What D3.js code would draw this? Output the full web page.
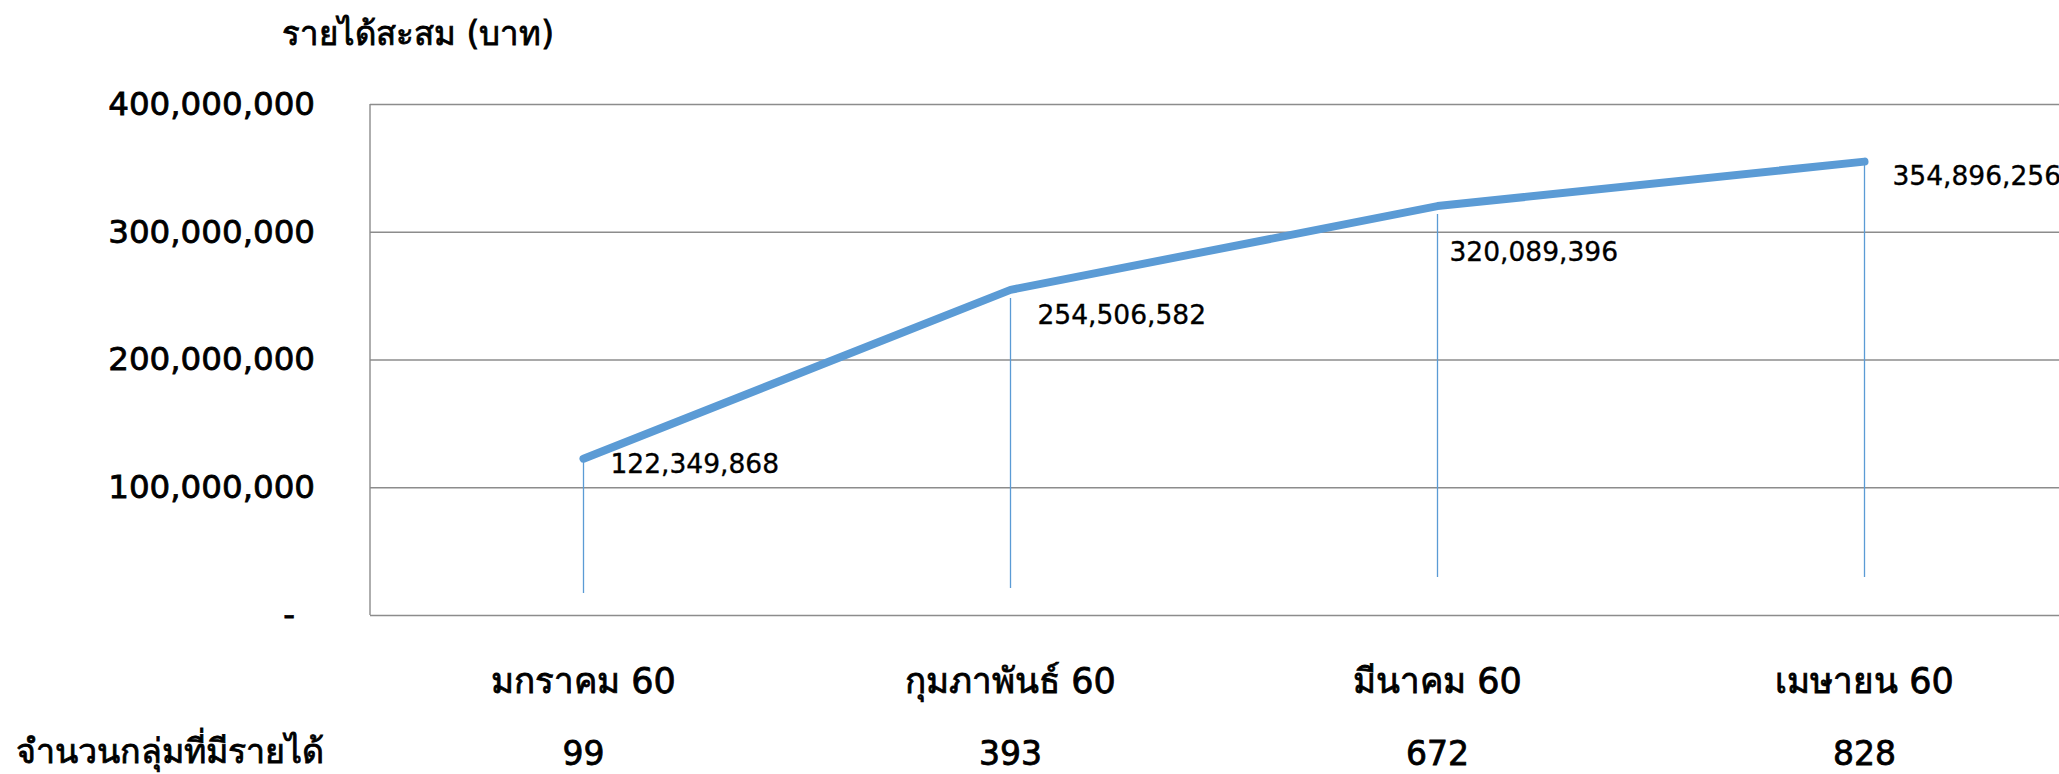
<!DOCTYPE html>
<html>
<head>
<meta charset="utf-8">
<script src="https://cdn.jsdelivr.net/npm/d3@7"></script>
<style>
  body { margin: 0; background: #fff; }
  svg { display: block; font-family: "DejaVu Sans", "Noto Sans", sans-serif; }
  .heavy { fill: #000; stroke: #000; stroke-width: 0.8px; }
</style>
</head>
<body>
<svg id="chart" width="2059" height="774"></svg>
<script>
const months = ['มกราคม 60', 'กุมภาพันธ์ 60', 'มีนาคม 60', 'เมษายน 60'];
const revenue = [122349868, 254506582, 320089396, 354896256];
const groupCounts = [99, 393, 672, 828];
const yTicks = [0, 100000000, 200000000, 300000000, 400000000];
// thin blue drop lines (baht)
const dropTop = [122349868, 248100000, 313900000, 354896256];
const dropBottom = [17200000, 21100000, 29700000, 29700000];
// label nudges (px) as placed in the original
const labelDx = [27, 27, 12, 28];
const labelDy = [14, 34, 55, 23];

const svg = d3.select('#chart');
const width = 2059;

const x = d3.scaleBand().domain(months).range([370, 2078]);
const y = d3.scaleLinear().domain([0, 400000000]).range([615, 104]);
const cx = (i) => x(months[i]) + x.bandwidth() / 2;
const fmt = d3.format(',');

// title
svg.append('text')
  .attr('class', 'heavy')
  .attr('x', 282)
  .attr('y', 45)
  .attr('font-size', 33)
  .text('รายได้สะสม (บาท)');

// gridlines + y labels
const yAxis = svg.append('g')
  .attr('transform', 'translate(370,0)')
  .call(d3.axisLeft(y).tickValues(yTicks).tickSize(-(width - 370)).tickPadding(55)
    .tickFormat((d) => (d === 0 ? '-' : fmt(d))));
yAxis.select('.domain').remove();
yAxis.selectAll('.tick line').attr('stroke', '#8c8c8c').attr('stroke-width', 1.4);
yAxis.selectAll('.tick text')
  .attr('class', 'heavy')
  .attr('font-size', 32.5)
  .attr('font-family', '"DejaVu Sans", sans-serif')
  .attr('dx', (d) => (d === 0 ? -20 : 0));

// left axis line
svg.append('line')
  .attr('x1', 370).attr('x2', 370)
  .attr('y1', y(400000000)).attr('y2', y(0))
  .attr('stroke', '#8c8c8c')
  .attr('stroke-width', 1.4);

// drop lines
svg.append('g')
  .selectAll('line')
  .data(revenue)
  .enter()
  .append('line')
  .attr('x1', (d, i) => cx(i))
  .attr('x2', (d, i) => cx(i))
  .attr('y1', (d, i) => y(dropTop[i]))
  .attr('y2', (d, i) => y(dropBottom[i]))
  .attr('stroke', '#5b9bd5')
  .attr('stroke-width', 1.3);

// main line
const line = d3.line()
  .x((d, i) => cx(i))
  .y((d) => y(d));
svg.append('path')
  .datum(revenue)
  .attr('d', line)
  .attr('fill', 'none')
  .attr('stroke', '#5b9bd5')
  .attr('stroke-width', 8)
  .attr('stroke-linecap', 'round')
  .attr('stroke-linejoin', 'round');

// data labels
svg.append('g')
  .selectAll('text')
  .data(revenue)
  .enter()
  .append('text')
  .attr('x', (d, i) => cx(i) + labelDx[i])
  .attr('y', (d, i) => y(d) + labelDy[i])
  .attr('font-size', 26.5)
  .attr('fill', '#000')
  .attr('stroke', '#000')
  .attr('stroke-width', 0.35)
  .text((d) => fmt(d));

// category row
svg.append('g')
  .selectAll('text')
  .data(months)
  .enter()
  .append('text')
  .attr('class', 'heavy')
  .attr('x', (d, i) => cx(i))
  .attr('y', 693)
  .attr('text-anchor', 'middle')
  .attr('font-size', 35)
  .text((d) => d);

// group count row
svg.append('text')
  .attr('class', 'heavy')
  .attr('x', 16)
  .attr('y', 763)
  .attr('font-size', 34)
  .text('จำนวนกลุ่มที่มีรายได้');

svg.append('g')
  .selectAll('text')
  .data(groupCounts)
  .enter()
  .append('text')
  .attr('class', 'heavy')
  .attr('x', (d, i) => cx(i))
  .attr('y', 765)
  .attr('text-anchor', 'middle')
  .attr('font-size', 33)
  .text((d) => d);
</script>
</body>
</html>
